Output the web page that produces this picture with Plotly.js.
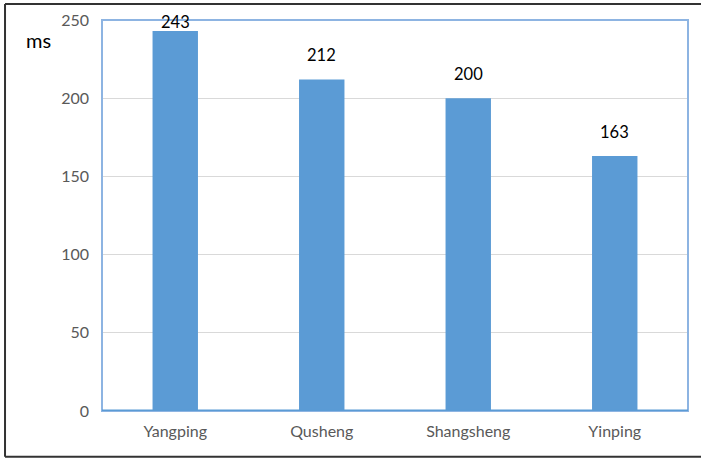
<!DOCTYPE html>
<html>
<head>
<meta charset="utf-8">
<script src="https://cdn.plot.ly/plotly-3.0.1.min.js"></script>
<style>
  html, body { margin: 0; padding: 0; background: #ffffff; }
  #chart { width: 701px; height: 458px; }
</style>
</head>
<body>
<div id="chart"></div>
<script>
// Response time per tone category (ms)
const categories = ['Yangping', 'Qusheng', 'Shangsheng', 'Yinping'];
const values = [243, 212, 200, 163];
const yTicks = [0, 50, 100, 150, 200, 250];

const barColor = '#5b9bd5';
const fontFamily = 'Lato, "Open Sans", sans-serif';

const trace = {
  type: 'bar',
  x: categories,
  y: values,
  marker: { color: barColor },
  hoverinfo: 'skip'
};

// Value labels sit just above each bar (the tallest one is tucked under the frame)
const valueLabels = categories.map((c, i) => ({
  x: c, y: values[i], xref: 'x', yref: 'y',
  text: String(values[i]),
  showarrow: false,
  yanchor: 'bottom',
  yshift: values[i] > 240 ? -3 : 12,
  font: { family: fontFamily, size: 16.5, color: '#000000' }
}));

const layout = {
  width: 701,
  height: 458,
  margin: { l: 102, r: 13, t: 20, b: 47 },
  paper_bgcolor: '#ffffff',
  plot_bgcolor: '#ffffff',
  bargap: 0.69,
  showlegend: false,
  font: { family: fontFamily, size: 16, color: '#595959' },
  xaxis: {
    type: 'category',
    showgrid: false,
    zeroline: false,
    showline: false,
    ticks: '',
    tickfont: { family: fontFamily, size: 16, color: '#595959' },
    ticklabelstandoff: 9
  },
  yaxis: {
    range: [0, 250],
    tickvals: yTicks,
    ticktext: yTicks.map(String),
    showgrid: true,
    gridcolor: '#d9d9d9',
    gridwidth: 1,
    zeroline: false,
    showline: false,
    ticks: '',
    ticklabelstandoff: 12,
    tickfont: { family: fontFamily, size: 16, color: '#595959' }
  },
  annotations: valueLabels.concat([{
    x: -0.109, y: 0.95, xref: 'paper', yref: 'paper',
    text: 'ms', showarrow: false,
    xanchor: 'center', yanchor: 'middle',
    font: { family: fontFamily, size: 20, color: '#000000' }
  }]),
  shapes: [
    // plot area frame
    { type: 'rect', xref: 'paper', yref: 'paper', x0: 0, x1: 1, y0: 0, y1: 1,
      line: { color: '#8db4e2', width: 2 }, layer: 'above' },
    // value axis baseline
    { type: 'line', xref: 'paper', yref: 'y', x0: 0, x1: 1, y0: 0, y1: 0,
      line: { color: barColor, width: 3 }, layer: 'above' },
    // outer border
    { type: 'line', xref: 'paper', yref: 'paper', x0: -0.1655, x1: 1.05, y0: 1.041, y1: 1.041,
      line: { color: '#333333', width: 2 } },
    { type: 'line', xref: 'paper', yref: 'paper', x0: -0.1655, x1: -0.1655, y0: 1.041, y1: -0.117,
      line: { color: '#333333', width: 2 } },
    { type: 'line', xref: 'paper', yref: 'paper', x0: -0.1655, x1: 1.05, y0: -0.117, y1: -0.117,
      line: { color: '#333333', width: 2 } }
  ]
};

Plotly.newPlot('chart', [trace], layout, { displayModeBar: false, staticPlot: true });
</script>
</body>
</html>
